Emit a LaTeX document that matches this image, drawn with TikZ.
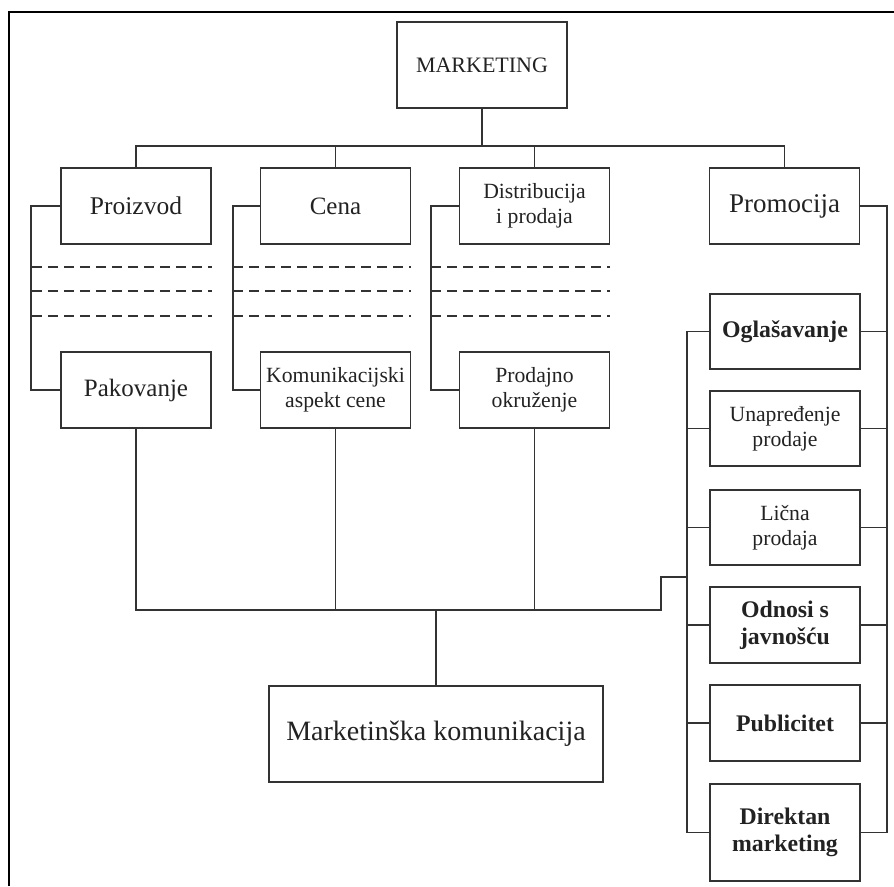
\documentclass[tikz,border=0pt]{standalone}
\usepackage{fontspec}
\setmainfont{Liberation Serif}
\definecolor{ln}{HTML}{333333}
\definecolor{tx}{HTML}{222222}
\begin{document}
\begin{tikzpicture}[x=1pt,y=-1pt,
  box/.style={draw=ln, line width=1.9pt, minimum width=150pt, minimum height=76pt, inner sep=0pt, align=center, text=tx},
  big/.style={font=\fontsize{25}{28}\selectfont},
  small/.style={font=\fontsize{21.7}{25}\selectfont},
  heavy/.style={font=\bfseries\fontsize{23.8}{27}\selectfont},
  conn/.style={draw=ln, line width=1.9pt},
  dashlin/.style={draw=ln, line width=1.7pt, dash pattern=on 10pt off 6pt}]
\useasboundingbox (0,0) rectangle (894,886);
% frame
\draw[line width=2.6pt, black] (9,886) -- (9,12) -- (894,12);
% nodes
\node[box, minimum width=170pt, minimum height=86pt, font=\fontsize{22}{25}\selectfont] (mk) at (482,65) {MARKETING};
\node[box, big, font=\fontsize{25.5}{28}\selectfont] (proiz) at (136,206) {Proizvod};
\node[box, big] (cena) at (335.5,206) {Cena};
\node[box, small] (dist) at (534.5,206) {Distribucija\\i prodaja};
\node[box, font=\fontsize{27}{30}\selectfont] (promo) at (784.5,206) {Promocija};
\node[box, big] (pak) at (136,390) {Pakovanje};
\node[box, small] (kom) at (335.5,390) {Komunikacijski\\aspekt cene};
\node[box, small] (prod) at (534.5,390) {Prodajno\\okruženje};
\node[box, minimum width=334pt, minimum height=96pt, font=\fontsize{28}{31}\selectfont, text depth=6pt] (mkom) at (436,734) {Marketinška komunikacija};
\node[box, heavy, minimum height=75pt] (ogl) at (785,331.5) {Oglašavanje};
\node[box, small, minimum height=75pt] (unap) at (785,428.5) {Unapređenje\\prodaje};
\node[box, small, minimum height=75pt] (licna) at (785,527.5) {Lična\\prodaja};
\node[box, heavy] (odn) at (785,625) {Odnosi s\\javnošću};
\node[box, heavy] (pub) at (785,723) {Publicitet};
\node[box, heavy, minimum height=97pt] (dir) at (785,832.5) {Direktan\\marketing};
% helper coordinates
\coordinate (bus) at (0,146);
\coordinate (bot) at (0,610);
\coordinate (lb) at (687,0);
\coordinate (rb) at (887,0);
\coordinate (step) at (661,577);
% top tree
\draw[conn] (mk.south) -- (mk.south |- bus);
\draw[conn] (proiz.north) -- (proiz.north |- bus) -- (promo.north |- bus) -- (promo.north);
\draw[conn] (cena.north) -- (cena.north |- bus);
\draw[conn] (dist.north) -- (dist.north |- bus);
% left brackets
\draw[conn] (proiz.west) -- ++(-29,0) |- (pak.west);
\draw[conn] (cena.west) -- ++(-27,0) |- (kom.west);
\draw[conn] (dist.west) -- ++(-28,0) |- (prod.west);
% dashed lines
\foreach \yy in {267,291,316}{
  \draw[dashlin] (32,\yy) -- (proiz.east |- 0,\yy);
  \draw[dashlin] (233,\yy) -- (cena.east |- 0,\yy);
  \draw[dashlin] (431,\yy) -- (dist.east |- 0,\yy);
}
% bottom tree
\draw[conn] (pak.south) -- (pak.south |- bot) -- (step |- bot) -- (step) -- (step -| lb);
\draw[conn] (kom.south) -- (kom.south |- bot);
\draw[conn] (prod.south) -- (prod.south |- bot);
\draw[conn] (mkom.north) -- (mkom.north |- bot);
% promotion list brackets
\draw[conn] (ogl.west) -- (ogl.west -| lb) -- (dir.west -| lb) -- (dir.west);
\foreach \n in {unap,licna,odn,pub}{
  \draw[conn] (\n.west) -- (\n.west -| lb);
  \draw[conn] (\n.east) -- (\n.east -| rb);
}
\draw[conn] (promo.east) -- (promo.east -| rb) -- (dir.east -| rb) -- (dir.east);
\draw[conn] (ogl.east) -- (ogl.east -| rb);
\end{tikzpicture}
\end{document}
